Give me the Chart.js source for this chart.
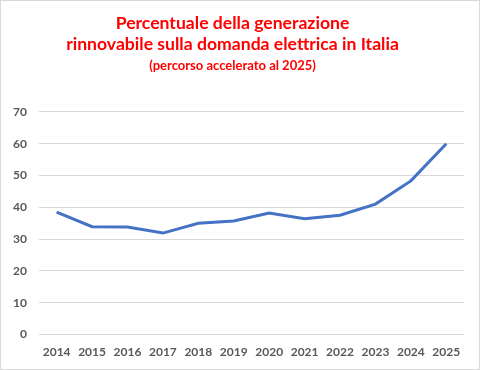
<!DOCTYPE html>
<html><head><meta charset="utf-8">
<script src="https://cdn.jsdelivr.net/npm/chart.js@4"></script>
<style>
html,body{margin:0;padding:0;background:#fff;}
#wrap{width:478px;height:368px;border:1px solid #d9d9d9;position:relative;}
</style></head>
<body><div id="wrap"><canvas id="c" width="478" height="368"></canvas></div>
<script>
const categories = ["2014","2015","2016","2017","2018","2019","2020","2021","2022","2023","2024","2025"];
const values = [38.5, 33.9, 33.8, 31.9, 35.0, 35.7, 38.2, 36.4, 37.5, 41.0, 48.3, 60.0];
const yTicks = [0,10,20,30,40,50,60,70];
const titleLines = ["Percentuale della generazione", "rinnovabile sulla domanda elettrica in Italia"];
const subtitleText = "(percorso accelerato al 2025)";

new Chart(document.getElementById('c'), {
  type: 'line',
  data: {
    labels: categories,
    datasets: [{
      data: values,
      borderColor: '#4472C4',
      borderWidth: 3,
      pointRadius: 0,
      tension: 0,
      fill: false
    }]
  },
  options: {
    responsive: false,
    animation: false,
    layout: { padding: { left: 0, right: 15, top: 6, bottom: 0 } },
    plugins: {
      legend: { display: false },
      tooltip: { enabled: false },
      title: {
        display: true,
        text: titleLines,
        color: '#FF0000',
        font: { family: 'Lato', size: 17.6, weight: 'bold' },
        padding: { top: 6, bottom: 0 },
        lineHeight: 1.32
      },
      subtitle: {
        display: true,
        text: subtitleText,
        color: '#FF0000',
        font: { family: 'Lato', size: 13, weight: 'bold' },
        padding: { top: 3, bottom: 38 }
      }
    },
    scales: {
      x: {
        offset: true,
        grid: { display: false, drawTicks: false },
        border: { display: false },
        ticks: { color: '#595959', font: { family: 'Lato', size: 12, weight: 'bold' }, padding: 10, maxRotation: 0, autoSkip: false }
      },
      y: {
        min: 0, max: 70,
        afterBuildTicks: (axis) => { axis.ticks = yTicks.map(v => ({ value: v })); },
        grid: { color: '#d9d9d9', drawTicks: false },
        border: { display: false },
        ticks: { color: '#595959', font: { family: 'Lato', size: 12, weight: 'bold' }, padding: 12 }
      }
    }
  }
});
</script></body></html>
